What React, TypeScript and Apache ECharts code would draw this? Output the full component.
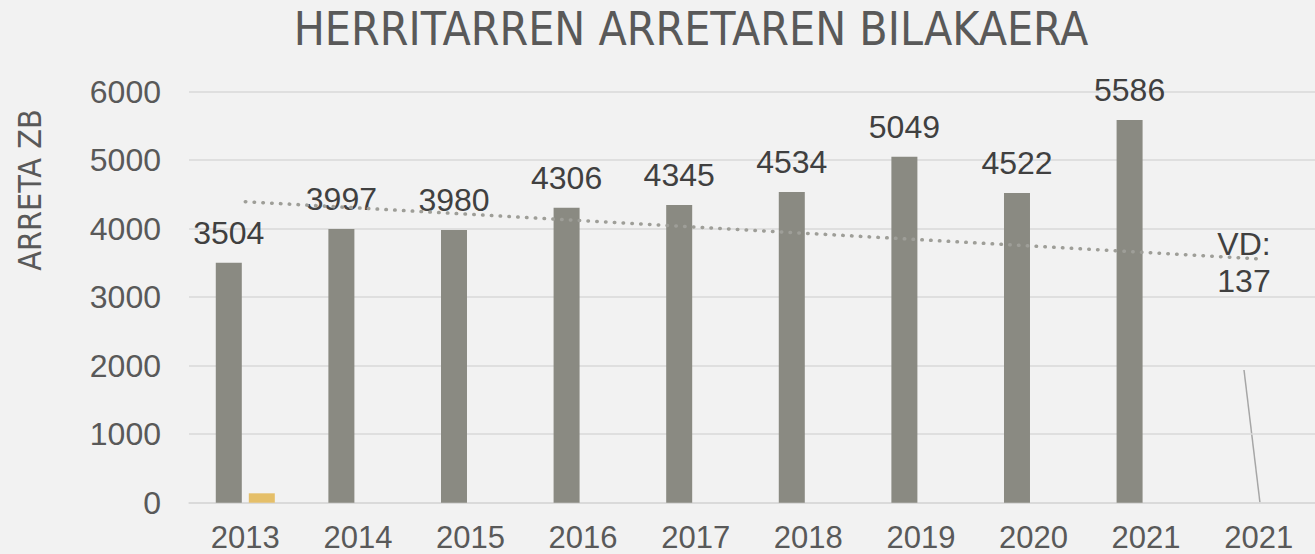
import React, { useEffect, useRef } from "react";
import * as echarts from "echarts";

const categories = ["2013", "2014", "2015", "2016", "2017", "2018", "2019", "2020", "2021", "2021"];
const arretaValues = [3504, 3997, 3980, 4306, 4345, 4534, 5049, 4522, 5586, null];
const vdValues = [137, null, null, null, null, null, null, null, null, null];
const trendStart = 4395;
const trendEnd = 3560;
const yTicks = { min: 0, max: 6000, interval: 1000 };

const NUM_FONT = "Liberation Sans";

export default function App() {
  const ref = useRef<HTMLDivElement>(null);
  useEffect(() => {
    if (!ref.current) return;
    const chart = echarts.init(ref.current, null, { renderer: "svg" });
    chart.setOption({
      animation: false,
      backgroundColor: "#f2f2f2",
      title: {
        text: "HERRITARREN ARRETAREN BILAKAERA",
        left: 686,
        top: 1,
        textAlign: "center",
        textStyle: {
          fontFamily: "DejaVu Sans Condensed",
          fontSize: 46,
          fontWeight: "normal",
          color: "#595959",
        },
      },
      grid: { left: 189, right: -19, top: 91.7, bottom: 51.3, containLabel: false },
      xAxis: {
        type: "category",
        data: categories,
        axisTick: { show: false },
        axisLine: { lineStyle: { color: "#d9d9d9", width: 1.5 } },
        axisLabel: {
          interval: 0,
          margin: 24,
          lineHeight: 22,
          fontFamily: NUM_FONT,
          fontSize: 31,
          color: "#595959",
        },
      },
      yAxis: {
        type: "value",
        min: yTicks.min,
        max: yTicks.max,
        interval: yTicks.interval,
        axisLine: { show: false },
        axisTick: { show: false },
        splitLine: { lineStyle: { color: "#d9d9d9", width: 1.5 } },
        axisLabel: {
          margin: 28,
          formatter: (v: number) => String(v),
          fontFamily: NUM_FONT,
          fontSize: 32,
          color: "#595959",
        },
      },
      graphic: [
        {
          type: "text",
          x: 30,
          y: 190,
          rotation: Math.PI / 2,
          style: {
            text: "ARRETA ZB",
            fontFamily: "DejaVu Sans Condensed",
            fontSize: 32,
            fill: "#595959",
            align: "center",
            verticalAlign: "middle",
          },
        },
        {
          type: "line",
          shape: { x1: 1244, y1: 370, x2: 1260, y2: 503 },
          style: { stroke: "#a6a6a6", lineWidth: 1.5 },
        },
      ],
      series: [
        {
          type: "bar",
          data: arretaValues,
          barWidth: 26,
          barGap: "27%",
          itemStyle: { color: "#8a8a82" },
          label: {
            show: true,
            position: "top",
            distance: 14,
            fontFamily: NUM_FONT,
            fontSize: 32,
            color: "#404040",
          },
        },
        {
          type: "bar",
          data: vdValues,
          barWidth: 26,
          itemStyle: { color: "#e5bf69" },
          label: {
            show: true,
            formatter: "VD:\n{c}",
            fontFamily: NUM_FONT,
            fontSize: 32,
            lineHeight: 37,
            color: "#404040",
          },
          labelLayout: { x: 1244, y: 262, align: "center", verticalAlign: "middle" },
        },
        {
          type: "line",
          data: categories.map(() => null),
          showSymbol: false,
          silent: true,
          lineStyle: { opacity: 0 },
          markLine: {
            silent: true,
            symbol: ["none", "none"],
            label: { show: false },
            lineStyle: { color: "#9e9e98", width: 3.5, type: [0.5, 8.3], cap: "round" },
            data: [[{ coord: [0, trendStart] }, { coord: [9, trendEnd] }]],
          },
        },
      ],
    });
    return () => chart.dispose();
  }, []);
  return (
    <div
      ref={ref}
      style={{ position: "fixed", left: 0, top: 0, width: 1315, height: 554 }}
    />
  );
}
